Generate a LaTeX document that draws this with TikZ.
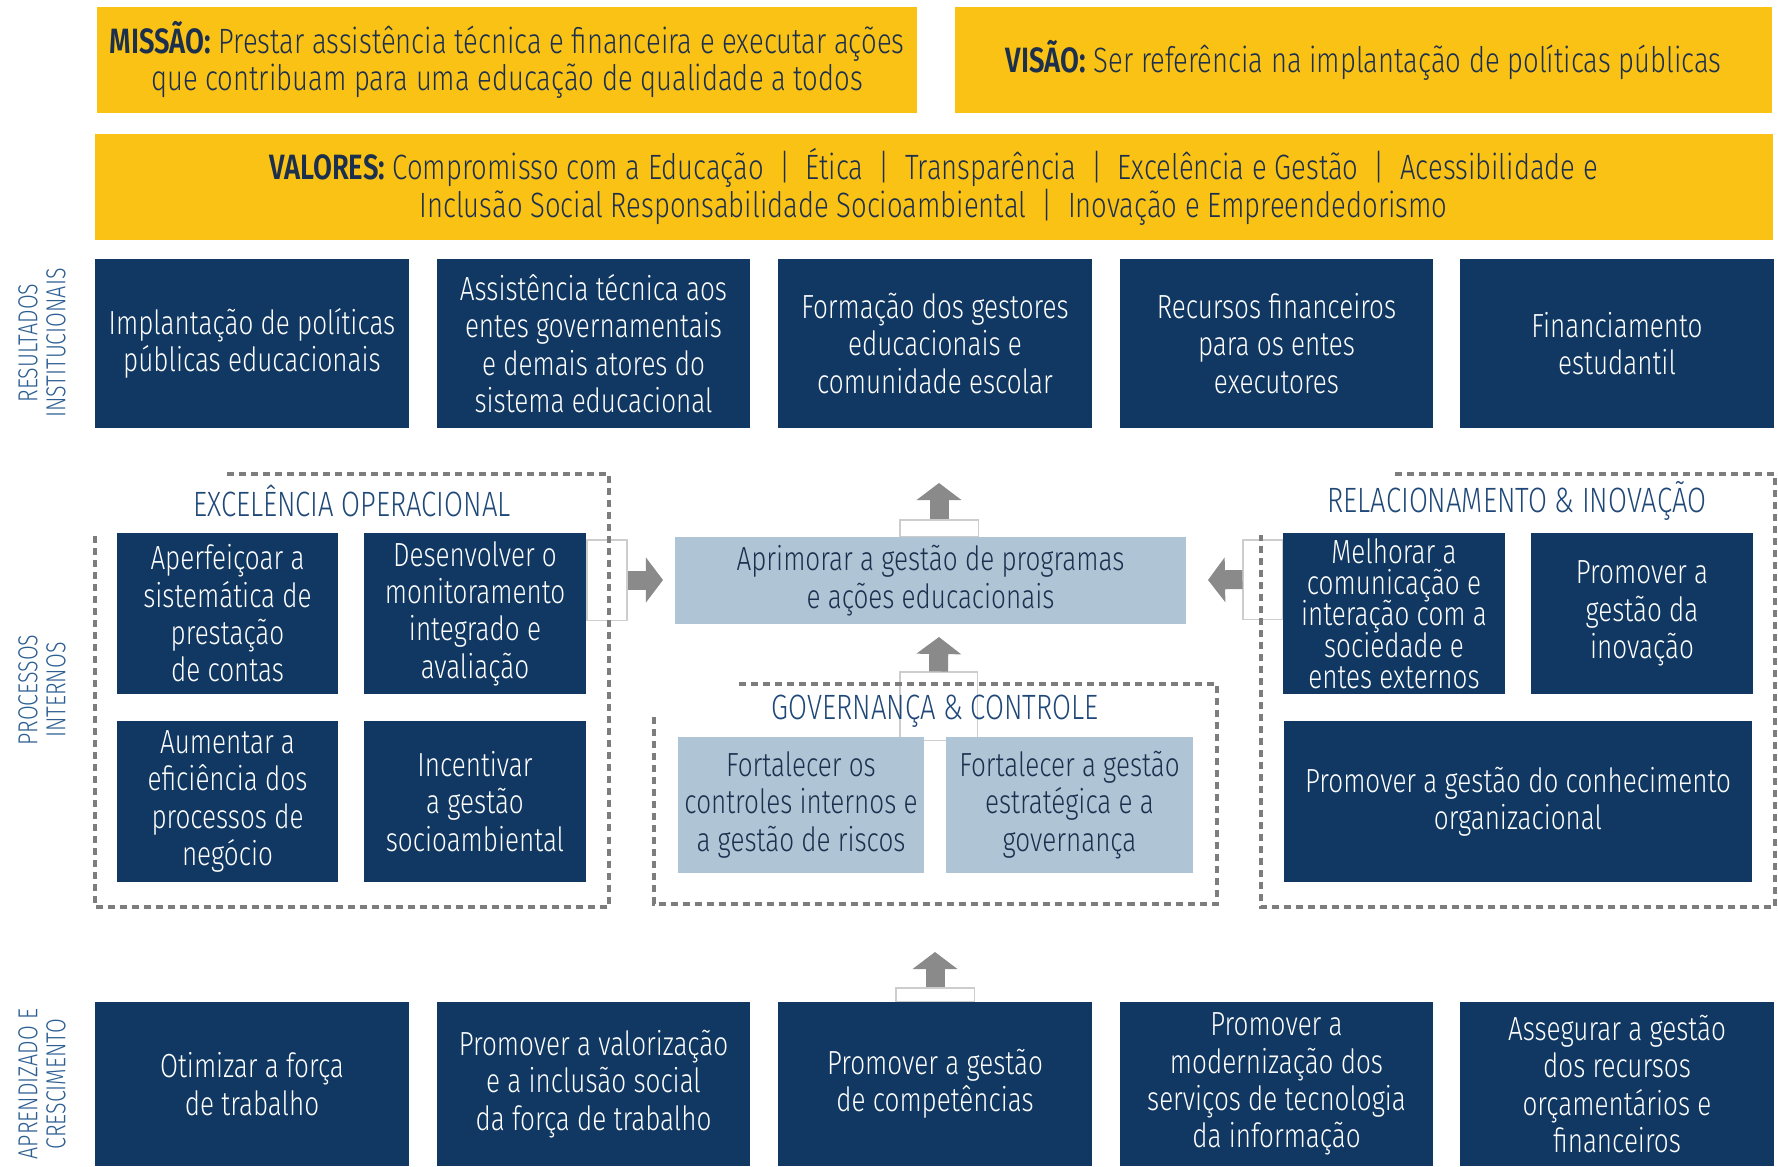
\documentclass[tikz,border=0pt]{standalone}
\usepackage{fontspec}
\setmainfont{Fira Sans}[UprightFont=* Light, BoldFont=* SemiBold, FakeStretch=0.78]
\usetikzlibrary{arrows.meta}

\definecolor{navy}{RGB}{16,56,98}
\definecolor{mist}{RGB}{175,196,213}
\definecolor{gold}{RGB}{250,194,21}
\definecolor{ink}{RGB}{28,48,78}
\definecolor{heading}{RGB}{31,72,120}
\definecolor{sidetext}{RGB}{44,94,146}
\definecolor{arrowgrey}{RGB}{138,138,138}
\definecolor{dashgrey}{RGB}{125,125,125}
\definecolor{baseline}{RGB}{205,205,205}

\tikzset{
  box/.style={rectangle, inner sep=0pt, align=center,
    font=\fontsize{9.5}{10.6}\selectfont},
  yellowbox/.style={box, fill=gold, text=ink, minimum height=1.06cm,
    font=\fontsize{10}{10.6}\selectfont},
  navybox/.style={box, fill=navy, text=white},
  mistbox/.style={box, fill=mist, text=ink},
  rowbox/.style={navybox, minimum width=3.13cm, minimum height=1.69cm},
  cell/.style={navybox, minimum width=2.21cm, minimum height=1.61cm},
  govbox/.style={mistbox, minimum width=2.46cm, minimum height=1.36cm},
  grouptitle/.style={inner sep=0pt, text=heading, font=\fontsize{10}{12}\selectfont},
  sidelabel/.style={inner sep=0pt, align=center, rotate=90, text=sidetext,
    font=\fontsize{7.8}{8}\selectfont},
  dashframe/.style={draw=dashgrey, line width=0.04cm,
    dash pattern=on 0.07cm off 0.05cm},
  arrowbase/.style={rectangle, inner sep=0pt, draw=baseline, line width=0.3pt},
  blockarrow/.style={draw=arrowgrey, line width=0.19cm,
    -{Triangle[width=4.4mm, length=1.7mm]}}
}

\begin{document}
\begin{tikzpicture}[x=0.01cm, y=-0.01cm]
  \useasboundingbox (0,0) rectangle (1778,1166);

  % mission, vision, values
  \node[yellowbox, minimum width=8.19cm] (missao) at (507,60)
    {\textbf{MISSÃO:} Prestar assistência técnica e financeira e executar ações\\
     que contribuam para uma educação de qualidade a todos};
  \node[yellowbox, minimum width=8.17cm] (visao) at (1363.5,60)
    {\textbf{VISÃO:} Ser referência na implantação de políticas públicas};
  \node[yellowbox, minimum width=16.77cm] (valores) at (933.5,187)
    {\textbf{VALORES:} Compromisso com a Educação~~|~~Ética~~|~~Transparência~~|~~Excelência
     e Gestão~~|~~Acessibilidade e\\
     Inclusão Social Responsabilidade Socioambiental~~|~~Inovação e Empreendedorismo};

  % perspective labels
  \node[sidelabel] (sres) at (42,343) {RESULTADOS\\INSTITUCIONAIS};
  \node[sidelabel] (sproc) at (42,690) {PROCESSOS\\INTERNOS};
  \node[sidelabel] (sapr) at (42,1084) {APRENDIZADO E\\CRESCIMENTO};

  % institutional results
  \node[rowbox] (r1) at (252,343.5) {Implantação de políticas\\públicas educacionais};
  \node[rowbox] (r2) at (593.5,343.5) {Assistência técnica aos\\entes governamentais\\e demais atores do\\sistema educacional};
  \node[rowbox] (r3) at (935,343.5) {Formação dos gestores\\educacionais e\\comunidade escolar};
  \node[rowbox] (r4) at (1276.5,343.5) {Recursos financeiros\\para os entes\\executores};
  \node[rowbox] (r5) at (1617,343.5) {Financiamento\\estudantil};

  % bases behind the arrows
  \node[arrowbase, minimum width=0.78cm, minimum height=0.17cm] (topbase) at (939,528.5) {};
  \node[arrowbase, minimum width=0.77cm, minimum height=0.68cm] (govbase) at (938.5,706) {};
  \node[arrowbase, minimum width=0.78cm, minimum height=0.14cm] (lowbase) at (935,995) {};
  \node[arrowbase, minimum width=0.40cm, minimum height=0.80cm] (leftbase) at (607,580) {};
  \node[arrowbase, minimum width=0.40cm, minimum height=0.79cm] (rightbase) at (1263,579.5) {};

  % internal processes
  \draw[dashframe] (227,474) -- (609,474) -- (609,907) -- (95,907) -- (95,533);
  \draw[dashframe] (1395,474) -- (1775,474) -- (1775,907) -- (1261,907) -- (1261,535);
  \draw[dashframe] (739,684) -- (1217,684) -- (1217,904) -- (654,904) -- (654,717);

  \node[grouptitle] (excel) at (352,501) {EXCELÊNCIA OPERACIONAL};
  \node[grouptitle] (relac) at (1517,501) {RELACIONAMENTO \& INOVAÇÃO};
  \node[grouptitle] (gov) at (935,711) {GOVERNANÇA \& CONTROLE};

  \node[cell] (e1) at (227.5,613.5) {Aperfeiçoar a\\sistemática de\\prestação\\de contas};
  \node[cell] (e2) at (475,613.5) {Desenvolver o\\monitoramento\\integrado e\\avaliação};
  \node[cell] (e3) at (227.5,801.5) {Aumentar a\\eficiência dos\\processos de\\negócio};
  \node[cell] (e4) at (475,801.5) {Incentivar\\a gestão\\socioambiental};

  \node[mistbox, minimum width=5.11cm, minimum height=0.86cm] (centro) at (930.5,580.5)
    {Aprimorar a gestão de programas\\e ações educacionais};

  \node[govbox] (g1) at (801,805) {Fortalecer os\\controles internos e\\a gestão de riscos};
  \node[govbox] (g2) at (1069.5,805) {Fortalecer a gestão\\estratégica e a\\governança};

  \node[cell, font={\fontsize{9.5}{8.9}\selectfont\lineskiplimit=-10pt\relax}] (i1) at (1394,613.5)
    {Melhorar a\\comunicação e\\interação com a\\sociedade e\\entes externos};
  \node[cell] (i2) at (1642,613.5) {Promover a\\gestão da\\inovação};
  \node[navybox, minimum width=4.68cm, minimum height=1.61cm] (i3) at (1518,801.5)
    {Promover a gestão do conhecimento\\organizacional};

  % learning and growth
  \node[rowbox, minimum height=1.64cm] (a1) at (252,1084) {Otimizar a força\\de trabalho};
  \node[rowbox, minimum height=1.64cm] (a2) at (593.5,1084) {Promover a valorização\\e a inclusão social\\da força de trabalho};
  \node[rowbox, minimum height=1.64cm] (a3) at (935,1084) {Promover a gestão\\de competências};
  \node[rowbox, minimum height=1.64cm] (a4) at (1276.5,1084) {Promover a\\modernização dos\\serviços de tecnologia\\da informação};
  \node[rowbox, minimum height=1.64cm] (a5) at (1617,1084) {Assegurar a gestão\\dos recursos\\orçamentários e\\financeiros};

  % arrow tips
  \coordinate (toptip) at (939,483);
  \coordinate (govtip) at (939,637);
  \coordinate (lowtip) at (935,952);
  \coordinate (lefttip) at (663,580);
  \coordinate (righttip) at (1208,580);

  \begin{scope}[blockarrow]
    \draw (topbase.north) -- (toptip);
    \draw (govbase.north) -- (govtip);
    \draw (lowbase.north) -- (lowtip);
    \draw (leftbase.east) -- (lefttip);
    \draw (rightbase.west) -- (righttip);
  \end{scope}
\end{tikzpicture}
\end{document}
